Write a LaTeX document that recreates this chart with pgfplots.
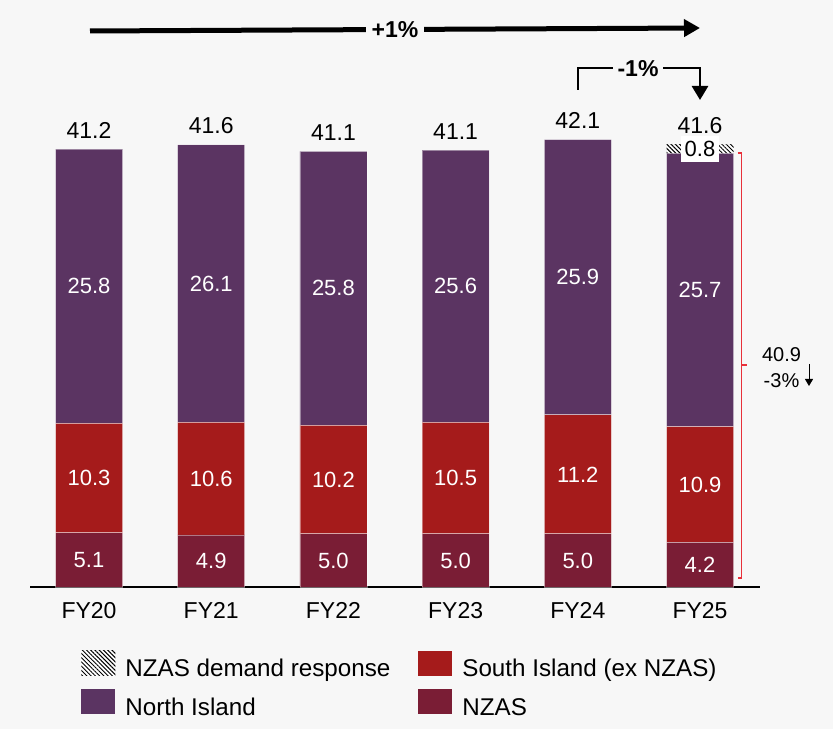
\documentclass[border=0pt]{standalone}
\usepackage{fontspec}
\setmainfont{Liberation Sans}
\usepackage{pgfplots}
\pgfplotsset{compat=1.18}
\usepackage{pgfplotstable}
\usetikzlibrary{arrows.meta,patterns.meta}

\definecolor{bg}{HTML}{F7F7F7}
\definecolor{northc}{HTML}{5B3462}
\definecolor{southc}{HTML}{A51B1B}
\definecolor{nzasc}{HTML}{7A1D35}
\definecolor{brk}{HTML}{E8313B}

% demand by segment (TWh), FY20..FY25
\pgfplotstableread{
x nzas south north dr  total
0 5.1  10.3  25.8  0   41.2
1 4.9  10.6  26.1  0   41.6
2 5.0  10.2  25.8  0   41.1
3 5.0  10.5  25.6  0   41.1
4 5.0  11.2  25.9  0   42.1
5 4.2  10.9  25.7  0.8 41.6
}\energy

\pgfplotsset{
  frame/.style={
    at={(30pt,142pt)}, anchor=south west,
    scale only axis, width=730pt, height=457pt,
    xmin=-0.483, xmax=5.491, ymin=0, ymax=43,
    clip=false,
  },
}
\tikzset{hatch/.style={preaction={fill=white}, pattern={Lines[angle=-45,distance=3pt,line width=1pt]}, pattern color=black}}

\begin{document}
\begin{tikzpicture}
\fill[bg] (0pt,0pt) rectangle (833pt,729pt);

\begin{axis}[frame,
  ybar stacked, bar width=67pt,
  hide y axis, axis x line*=bottom,
  x axis line style={line width=1.8pt},
  xtick={0,...,5}, xticklabels={FY20,FY21,FY22,FY23,FY24,FY25},
  major tick length=0pt,
  xticklabel style={font=\fontsize{23}{27}\selectfont, yshift=-12pt},
]
\addplot[fill=nzasc, draw=white, draw opacity=0.4, line width=0.8pt] table[x=x,y=nzas]{\energy};
\addplot[fill=southc, draw=white, draw opacity=0.4, line width=0.8pt] table[x=x,y=south]{\energy};
\addplot[fill=northc, draw=white, draw opacity=0.4, line width=0.8pt] table[x=x,y=north]{\energy};
\addplot[draw=none, hatch] table[x=x,y=dr]{\energy};
\end{axis}

\begin{axis}[frame, hide axis, no markers,
  point meta=explicit,
  nodes near coords,
  every node near coord/.append style={anchor=center, text=white, font=\fontsize{22}{26}\selectfont},
  /pgf/number format/fixed, /pgf/number format/fixed zerofill,
  /pgf/number format/precision=1, /pgf/number format/assume math mode=true,
  legend columns=2,
  legend cell align=left,
  legend image code/.code={\path[#1] (0pt,-7pt) rectangle (34pt,18pt); \path (42pt,6pt);},
  legend style={at={(rel axis cs:0.066,-0.135)}, anchor=north west, draw=none, fill=none,
    font=\fontsize{24.2}{29}\selectfont, row sep=9pt,
    /tikz/every even column/.append style={column sep=26pt}},
]
\addplot[draw=none, forget plot] table[x=x, y expr=\thisrow{nzas}/2, meta=nzas]{\energy};
\addplot[draw=none, forget plot] table[x=x, y expr=\thisrow{nzas}+\thisrow{south}/2, meta=south]{\energy};
\addplot[draw=none, forget plot] table[x=x, y expr=\thisrow{nzas}+\thisrow{south}+\thisrow{north}/2, meta=north]{\energy};
\addplot[draw=none, forget plot, every node near coord/.append style={text=black, yshift=19pt, font=\fontsize{23}{27}\selectfont}]
  table[x=x, y expr=\thisrow{nzas}+\thisrow{south}+\thisrow{north}+\thisrow{dr}, meta=total]{\energy};
\addplot[draw=none, forget plot, skip coords between index={0}{5},
  every node near coord/.append style={text=black, fill=white, inner xsep=4pt, inner ysep=5pt}]
  table[x=x, y expr=\thisrow{nzas}+\thisrow{south}+\thisrow{north}+\thisrow{dr}/2, meta=dr]{\energy};

\addlegendimage{hatch, draw=none}
\addlegendentry{NZAS demand response}
\addlegendimage{fill=southc, draw=none}
\addlegendentry{South Island (ex NZAS)}
\addlegendimage{fill=northc, draw=none}
\addlegendentry{North Island}
\addlegendimage{fill=nzasc, draw=none}
\addlegendentry{NZAS}
\end{axis}

\begin{scope}[x=1pt, y=1pt]
% overall growth arrow
\draw[line width=5pt, -{Triangle[length=16pt,width=17pt]}] (90,698) -- (700,701);
\node[fill=bg, inner xsep=6pt, font=\bfseries\fontsize{23}{27}\selectfont] at (395,699.5) {+1\%};
% FY24 -> FY25 arrow
\draw[line width=2.8pt, -{Triangle[length=14pt,width=16pt]}] (578,639) -- (578,661) -- (700,661) -- (700,629);
\node[fill=bg, inner xsep=5pt, font=\bfseries\fontsize{23}{27}\selectfont] at (638,660) {-1\%};
% bracket for FY25 excluding demand response
\draw[brk, line width=1.2pt] (737.5,576) -- (741.7,576) -- (741.7,151) -- (737.5,151);
\draw[brk, line width=1.2pt] (741.7,364) -- (747,364);
\node[font=\fontsize{20}{24}\selectfont] at (781.5,374) {40.9};
\node[font=\fontsize{20}{24}\selectfont] at (781.5,348) {-3\%};
\draw[line width=1pt, -{Triangle[length=7pt,width=8pt]}] (809,365) -- (809,343);
\end{scope}

\pgfresetboundingbox
\useasboundingbox (0pt,0pt) rectangle (833pt,729pt);
\end{tikzpicture}
\end{document}
